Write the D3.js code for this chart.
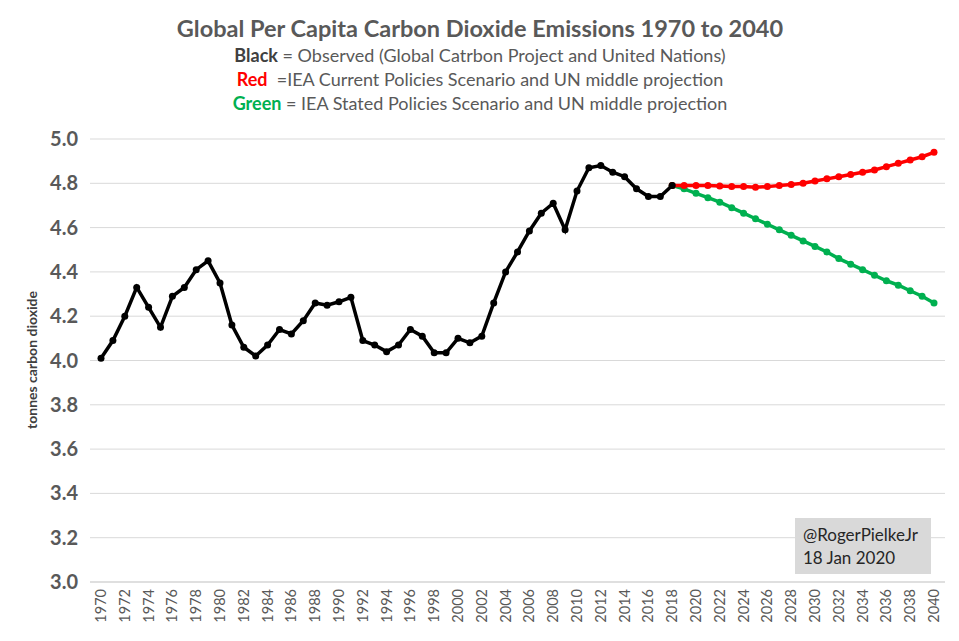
<!DOCTYPE html>
<html><head><meta charset="utf-8">
<script src="https://cdn.jsdelivr.net/npm/d3@7"></script>
<style>body{margin:0;background:#fff;font-family:Lato,"Open Sans",sans-serif}</style>
</head><body><svg id="c" width="959" height="641"></svg>
<script>
const obsYears = d3.range(1970, 2019);
const observed = [4.01,4.09,4.20,4.33,4.24,4.15,4.29,4.33,4.41,4.45,4.35,4.16,4.06,4.02,4.07,4.14,4.12,4.18,4.26,4.25,4.265,4.285,4.09,4.07,4.04,4.07,4.14,4.11,4.035,4.035,4.10,4.08,4.11,4.26,4.40,4.49,4.585,4.665,4.71,4.59,4.765,4.87,4.88,4.85,4.83,4.775,4.74,4.74,4.79];
const projYears = d3.range(2018, 2041);
const currentPolicies = [4.79,4.79,4.79,4.79,4.788,4.785,4.785,4.782,4.785,4.79,4.795,4.80,4.81,4.82,4.83,4.84,4.85,4.86,4.875,4.89,4.905,4.92,4.94];
const statedPolicies = [4.79,4.775,4.755,4.735,4.715,4.69,4.665,4.64,4.615,4.59,4.565,4.54,4.515,4.49,4.46,4.435,4.41,4.385,4.36,4.34,4.315,4.29,4.26];
const yTicks = d3.range(3.0, 5.01, 0.2);
const xTicks = d3.range(1970, 2041, 2);

const svg = d3.select("#c");
const x = d3.scaleLinear().domain([1970, 2040]).range([101, 934]);
const y = d3.scaleLinear().domain([3, 5]).range([582, 139]);

svg.append("g").selectAll("line").data(yTicks.slice(1)).join("line")
  .attr("x1", 90).attr("x2", 945).attr("y1", d => y(d)).attr("y2", d => y(d))
  .attr("stroke", "#d9d9d9");
svg.append("line").attr("x1", 90).attr("x2", 945).attr("y1", y(3)).attr("y2", y(3)).attr("stroke", "#bfbfbf");

svg.append("g").selectAll("text").data(yTicks).join("text")
  .attr("x", 78).attr("y", d => y(d) + 7).attr("text-anchor", "end")
  .attr("font-size", 20).attr("font-weight", "bold").attr("fill", "#595959")
  .text(d => d.toFixed(1));

svg.append("g").selectAll("text").data(xTicks).join("text")
  .attr("transform", d => `translate(${x(d) + 5},589) rotate(-90)`)
  .attr("text-anchor", "end").attr("font-size", 14.5).attr("fill", "#595959")
  .text(d => d);

svg.append("text").attr("transform", "translate(37,360) rotate(-90)")
  .attr("text-anchor", "middle").attr("font-size", 14).attr("font-weight", "bold").attr("fill", "#404040")
  .text("tonnes carbon dioxide");

function series(years, vals, color) {
  const pts = years.map((yr, i) => [yr, vals[i]]);
  svg.append("path").datum(pts)
    .attr("d", d3.line().x(d => x(d[0])).y(d => y(d[1])))
    .attr("fill", "none").attr("stroke", color).attr("stroke-width", 3.5);
  svg.append("g").selectAll("circle").data(pts).join("circle")
    .attr("cx", d => x(d[0])).attr("cy", d => y(d[1])).attr("r", 3.5).attr("fill", color);
}
series(projYears, statedPolicies, "#00b050");
series(projYears, currentPolicies, "#ff0000");
series(obsYears, observed, "#000000");

const t = svg.append("g").attr("text-anchor", "middle").attr("fill", "#595959");
t.append("text").attr("x", 480).attr("y", 37).attr("font-size", 23.5).attr("font-weight", "bold").text("Global Per Capita Carbon Dioxide Emissions 1970 to 2040");
const sub = [
  ["Black", "#404040", " = Observed (Global Catrbon Project and United Nations)", 62],
  ["Red", "#ff0000", "  =IEA Current Policies Scenario and UN middle projection", 86],
  ["Green", "#00b050", " = IEA Stated Policies Scenario and UN middle projection", 110]
];
sub.forEach(s => {
  const tx = t.append("text").attr("x", 480).attr("y", s[3]).attr("font-size", 18).attr("xml:space", "preserve");
  tx.append("tspan").attr("font-weight", "bold").attr("fill", s[1]).text(s[0]);
  tx.append("tspan").text(s[2]);
});

svg.append("rect").attr("x", 795).attr("y", 518).attr("width", 136).attr("height", 56).attr("fill", "#d9d9d9");
svg.append("text").attr("x", 803).attr("y", 541).attr("font-size", 17).attr("fill", "#262626").text("@RogerPielkeJr");
svg.append("text").attr("x", 803).attr("y", 564).attr("font-size", 17).attr("fill", "#262626").text("18 Jan 2020");
</script></body></html>
